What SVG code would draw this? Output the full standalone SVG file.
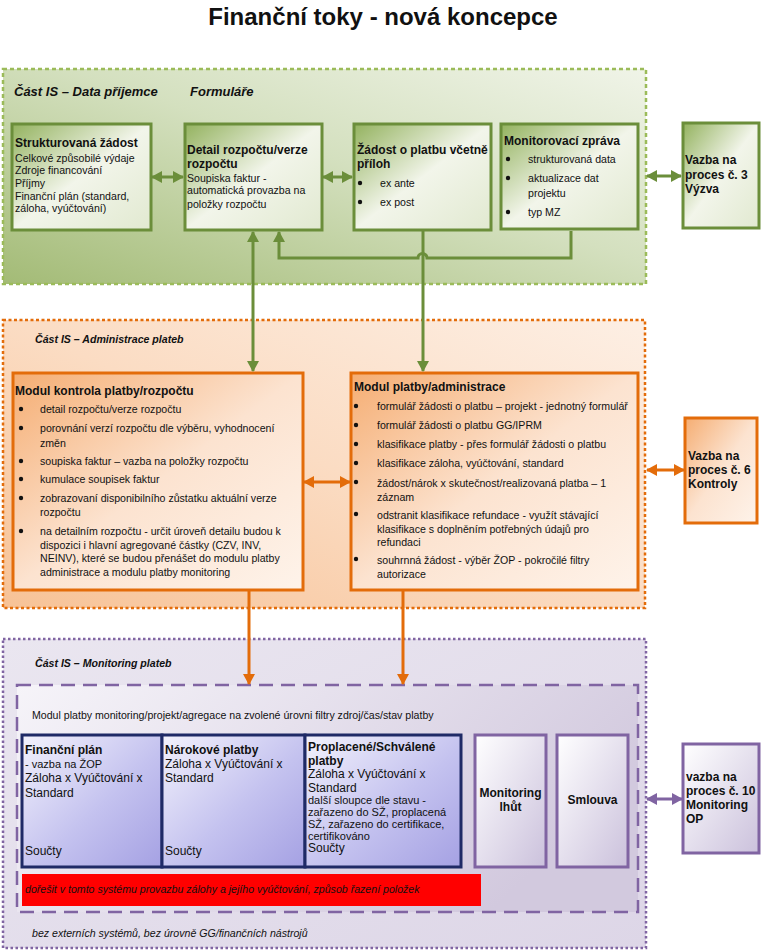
<svg xmlns="http://www.w3.org/2000/svg" width="761" height="952" viewBox="0 0 761 952">
<defs>
<linearGradient id="gSec" x1="0" y1="1" x2="1" y2="0">
<stop offset="0" stop-color="#a3bb76"/><stop offset="0.55" stop-color="#d4e0bf"/><stop offset="1" stop-color="#f0f4e8"/>
</linearGradient>
<linearGradient id="gBox" x1="0" y1="0" x2="1" y2="1">
<stop offset="0" stop-color="#93b25e"/><stop offset="0.5" stop-color="#f2f5ea"/><stop offset="1" stop-color="#e1e9d0"/>
</linearGradient>
<linearGradient id="oSec" x1="0" y1="1" x2="1" y2="0">
<stop offset="0" stop-color="#f7c296"/><stop offset="0.5" stop-color="#fbdcc3"/><stop offset="1" stop-color="#fdefe4"/>
</linearGradient>
<linearGradient id="oBox" x1="0" y1="0" x2="1" y2="1">
<stop offset="0" stop-color="#f5ad72"/><stop offset="0.5" stop-color="#fce3d0"/><stop offset="1" stop-color="#fef3ea"/>
</linearGradient>
<linearGradient id="pSec" x1="0" y1="0" x2="1" y2="1">
<stop offset="0" stop-color="#eae6f0"/><stop offset="1" stop-color="#ddd6e7"/>
</linearGradient>
<linearGradient id="pIn" x1="0" y1="0" x2="1" y2="0.4">
<stop offset="0" stop-color="#f6f4f9"/><stop offset="1" stop-color="#d2c9de"/>
</linearGradient>
<linearGradient id="bBox" x1="0" y1="0" x2="1" y2="1">
<stop offset="0" stop-color="#f3f2fc"/><stop offset="0.55" stop-color="#c4c2ef"/><stop offset="1" stop-color="#a5a1e3"/>
</linearGradient>
<linearGradient id="pBox" x1="0" y1="0" x2="1" y2="1">
<stop offset="0" stop-color="#ffffff"/><stop offset="1" stop-color="#cbc1dc"/>
</linearGradient>
<marker id="ag" markerUnits="userSpaceOnUse" markerWidth="12" markerHeight="12" refX="10" refY="6" orient="auto-start-reverse">
<path d="M0,0 L11,6 L0,12 z" fill="#6b8e3a"/>
</marker>
<marker id="ao" markerUnits="userSpaceOnUse" markerWidth="12" markerHeight="12" refX="10" refY="6" orient="auto-start-reverse">
<path d="M0,0 L11,6 L0,12 z" fill="#e36c0a"/>
</marker>
<marker id="ap" markerUnits="userSpaceOnUse" markerWidth="12" markerHeight="12" refX="10" refY="6" orient="auto-start-reverse">
<path d="M0,0 L11,6 L0,12 z" fill="#8064a2"/>
</marker>
</defs>
<style>
text{font-family:"Liberation Sans",Arial,sans-serif;fill:#111}
.title{font-size:24px;font-weight:bold}
.sec{font-weight:bold;font-style:italic}
.b12{font-size:12px;font-weight:bold}
.t12{font-size:12px}
.t11{font-size:11px}
.t10{font-size:10.6px}
.gbox{fill:url(#gBox);stroke:#6b8e3a;stroke-width:3}
.obox{fill:url(#oBox);stroke:#e36c0a;stroke-width:3}
.bbox{fill:url(#bBox);stroke:#1f2a66;stroke-width:3}
.pbox{fill:url(#pBox);stroke:#8064a2;stroke-width:3}
.cg{stroke:#6b8e3a;stroke-width:3;fill:none}
.co{stroke:#e36c0a;stroke-width:3;fill:none}
.cp{stroke:#8064a2;stroke-width:3;fill:none}
.dot{fill:#111}
</style>
<rect width="761" height="952" fill="#ffffff"/>
<text class="title" x="383" y="25" text-anchor="middle">Finanční toky - nová koncepce</text>

<g id="sec-data">
<rect x="3" y="69" width="643" height="215" fill="url(#gSec)" stroke="#9bbb59" stroke-width="2.5" stroke-dasharray="4 3"/>
<text class="sec" x="14" y="96" font-size="13">Část IS – Data příjemce</text>
<text class="sec" x="190" y="96" font-size="13">Formuláře</text>
</g>
<g id="sec-admin">
<rect x="3" y="320" width="642" height="288" fill="url(#oSec)" stroke="#e36c0a" stroke-width="2.5" stroke-dasharray="3 2.5"/>
<text class="sec" x="35" y="343" font-size="10.6">Část IS – Administrace plateb</text>
</g>
<g id="sec-mon">
<rect x="3" y="639" width="643" height="309" fill="url(#pSec)" stroke="#8064a2" stroke-width="2.5" stroke-dasharray="2.5 2.5"/>
<text class="sec" x="35" y="667" font-size="10.6">Část IS – Monitoring plateb</text>
<text x="32" y="937" font-size="10.6" font-style="italic">bez externích systémů, bez úrovně GG/finančních nástrojů</text>
</g>
<g id="mon-inner">
<rect x="17" y="685" width="621" height="227" fill="url(#pIn)" stroke="#8064a2" stroke-width="2.5" stroke-dasharray="14 8"/>
<text class="t10" x="32" y="719">Modul platby monitoring/projekt/agregace na zvolené úrovni filtry zdroj/čas/stav platby</text>
</g>

<g id="n-strukturovana">
<rect class="gbox" x="12" y="124" width="139" height="106"/>
<text class="b12" x="15" y="147">Strukturovaná žádost</text>
<text class="t10" x="15" y="162">Celkové způsobilé výdaje</text>
<text class="t10" x="15" y="174">Zdroje financování</text>
<text class="t10" x="15" y="187">Příjmy</text>
<text class="t10" x="15" y="200">Finanční plán (standard,</text>
<text class="t10" x="15" y="212">záloha, vyúčtování)</text>
</g>
<g id="n-detail">
<rect class="gbox" x="185" y="124" width="137" height="106"/>
<text class="b12" x="187" y="154">Detail rozpočtu/verze</text>
<text class="b12" x="187" y="168">rozpočtu</text>
<text class="t10" x="187" y="182">Soupiska faktur -</text>
<text class="t10" x="187" y="194">automatická provazba na</text>
<text class="t10" x="187" y="208">položky rozpočtu</text>
</g>
<g id="n-zadost">
<rect class="gbox" x="354" y="124" width="137" height="106"/>
<text class="b12" x="357" y="154">Žádost o platbu včetně</text>
<text class="b12" x="357" y="168">příloh</text>
<circle class="dot" cx="360" cy="183" r="2.2"/>
<text class="t10" x="380" y="187">ex ante</text>
<circle class="dot" cx="360" cy="202" r="2.2"/>
<text class="t10" x="380" y="206">ex post</text>
</g>
<g id="n-monitorovaci">
<rect class="gbox" x="501" y="124" width="137" height="105"/>
<text class="b12" x="504" y="145">Monitorovací zpráva</text>
<circle class="dot" cx="508" cy="159" r="2.2"/>
<text class="t10" x="528" y="163">strukturovaná data</text>
<circle class="dot" cx="508" cy="178" r="2.2"/>
<text class="t10" x="528" y="182">aktualizace dat</text>
<text class="t10" x="528" y="197">projektu</text>
<circle class="dot" cx="508" cy="212" r="2.2"/>
<text class="t10" x="528" y="216">typ MZ</text>
</g>
<g id="n-vazba3">
<rect class="gbox" x="683" y="123" width="76" height="105"/>
<text class="b12" x="685" y="164">Vazba na</text>
<text class="b12" x="685" y="179">proces č. 3</text>
<text class="b12" x="685" y="193">Výzva</text>
</g>

<g id="n-kontrola">
<rect class="obox" x="13" y="373" width="290" height="217"/>
<text class="b12" x="15" y="395">Modul kontrola platby/rozpočtu</text>
<circle class="dot" cx="21" cy="409" r="2.2"/>
<text class="t10" x="40" y="413">detail rozpočtu/verze rozpočtu</text>
<circle class="dot" cx="21" cy="428" r="2.2"/>
<text class="t10" x="40" y="432">porovnání verzí rozpočtu dle výběru, vyhodnocení</text>
<text class="t10" x="40" y="447">změn</text>
<circle class="dot" cx="21" cy="461" r="2.2"/>
<text class="t10" x="40" y="465">soupiska faktur – vazba na položky rozpočtu</text>
<circle class="dot" cx="21" cy="479" r="2.2"/>
<text class="t10" x="40" y="483">kumulace soupisek faktur</text>
<circle class="dot" cx="21" cy="498" r="2.2"/>
<text class="t10" x="40" y="502">zobrazovaní disponibilního zůstatku aktuální verze</text>
<text class="t10" x="40" y="516">rozpočtu</text>
<circle class="dot" cx="21" cy="531" r="2.2"/>
<text class="t10" x="40" y="535">na detailním rozpočtu - určit úroveň detailu budou k</text>
<text class="t10" x="40" y="549">dispozici i hlavní agregované částky (CZV, INV,</text>
<text class="t10" x="40" y="562">NEINV), které se budou přenášet do modulu platby</text>
<text class="t10" x="40" y="576">administrace a modulu platby monitoring</text>
</g>
<g id="n-platby">
<rect class="obox" x="351" y="373" width="287" height="217"/>
<text class="b12" x="354" y="391">Modul platby/administrace</text>
<circle class="dot" cx="356" cy="406" r="2.2"/>
<text class="t10" x="377" y="410">formulář žádosti o platbu – projekt - jednotný formulář</text>
<circle class="dot" cx="356" cy="425" r="2.2"/>
<text class="t10" x="377" y="429">formulář žádosti o platbu GG/IPRM</text>
<circle class="dot" cx="356" cy="444" r="2.2"/>
<text class="t10" x="377" y="448">klasifikace platby - přes formulář žádosti o platbu</text>
<circle class="dot" cx="356" cy="463" r="2.2"/>
<text class="t10" x="377" y="467">klasifikace záloha, vyúčtování, standard</text>
<circle class="dot" cx="356" cy="482" r="2.2"/>
<text class="t10" x="377" y="487">žádost/nárok x skutečnost/realizovaná platba – 1</text>
<text class="t10" x="377" y="501">záznam</text>
<circle class="dot" cx="356" cy="514" r="2.2"/>
<text class="t10" x="377" y="519">odstranit klasifikace refundace - využít stávající</text>
<text class="t10" x="377" y="533">klasifikace s doplněním potřebných údajů pro</text>
<text class="t10" x="377" y="546">refundaci</text>
<circle class="dot" cx="356" cy="559" r="2.2"/>
<text class="t10" x="377" y="564">souhrnná žádost - výběr ŽOP - pokročilé filtry</text>
<text class="t10" x="377" y="578">autorizace</text>
</g>
<g id="n-vazba6">
<rect class="obox" x="685" y="418" width="72" height="105"/>
<text class="b12" x="688" y="460">Vazba na</text>
<text class="b12" x="688" y="474">proces č. 6</text>
<text class="b12" x="688" y="488">Kontroly</text>
</g>

<g id="n-financni-plan">
<rect class="bbox" x="22" y="735" width="140" height="132"/>
<text class="b12" x="25" y="754">Finanční plán</text>
<text class="t11" x="25" y="768">- vazba na ŽOP</text>
<text class="t12" x="25" y="782">Záloha x Vyúčtování x</text>
<text class="t12" x="25" y="797">Standard</text>
<text class="t12" x="25" y="855">Součty</text>
</g>
<g id="n-narokove">
<rect class="bbox" x="162" y="735" width="143" height="132"/>
<text class="b12" x="165" y="754">Nárokové platby</text>
<text class="t12" x="165" y="768">Záloha x Vyúčtování x</text>
<text class="t12" x="165" y="782">Standard</text>
<text class="t12" x="165" y="855">Součty</text>
</g>
<g id="n-proplacene">
<rect class="bbox" x="305" y="735" width="156" height="132"/>
<text class="b12" x="308" y="751">Proplacené/Schválené</text>
<text class="b12" x="308" y="765">platby</text>
<text class="t12" x="308" y="778">Záloha x Vyúčtování x</text>
<text class="t12" x="308" y="792">Standard</text>
<text class="t11" x="308" y="804">další sloupce dle stavu -</text>
<text class="t11" x="308" y="816">zařazeno do SŽ, proplacená</text>
<text class="t11" x="308" y="828">SŽ, zařazeno do certifikace,</text>
<text class="t11" x="308" y="840">certifikováno</text>
<text class="t12" x="308" y="852">Součty</text>
</g>
<g id="n-lhuty">
<rect class="pbox" x="475" y="735" width="71" height="132"/>
<text class="b12" x="510.5" y="797" text-anchor="middle">Monitoring</text>
<text class="b12" x="510.5" y="811" text-anchor="middle">lhůt</text>
</g>
<g id="n-smlouva">
<rect class="pbox" x="557" y="735" width="71" height="132"/>
<text class="b12" x="592.5" y="804" text-anchor="middle">Smlouva</text>
</g>
<g id="n-doresit">
<rect x="22" y="874" width="459" height="32" fill="#ff0000"/>
<text class="t10" x="25" y="893" font-style="italic" fill="#400000">dořešit v tomto systému provazbu zálohy a jejího vyúčtování, způsob řazení položek</text>
</g>
<g id="n-vazba10">
<rect class="pbox" x="683" y="744" width="76" height="109"/>
<text class="b12" x="686" y="781">vazba na</text>
<text class="b12" x="686" y="795">proces č. 10</text>
<text class="b12" x="686" y="809">Monitoring</text>
<text class="b12" x="686" y="823">OP</text>
</g>

<g id="connectors">
<line class="cg" x1="152" y1="177" x2="183" y2="177" marker-start="url(#ag)" marker-end="url(#ag)"/>
<line class="cg" x1="323" y1="177" x2="352" y2="177" marker-start="url(#ag)" marker-end="url(#ag)"/>
<line class="cg" x1="647" y1="176" x2="681" y2="176" marker-start="url(#ag)" marker-end="url(#ag)"/>
<line class="cg" x1="253" y1="232" x2="253" y2="371" marker-start="url(#ag)" marker-end="url(#ag)"/>
<path class="cg" d="M571,231 V258 H427 A4.5,4.5 0 0 0 418,258 H279 V232" marker-end="url(#ag)"/>
<line class="cg" x1="423" y1="231" x2="423" y2="371" marker-end="url(#ag)"/>
<line class="co" x1="304" y1="482" x2="350" y2="482" marker-start="url(#ao)" marker-end="url(#ao)"/>
<line class="co" x1="647" y1="470" x2="684" y2="470" marker-start="url(#ao)" marker-end="url(#ao)"/>
<line class="co" x1="249" y1="591" x2="249" y2="684" marker-end="url(#ao)"/>
<line class="co" x1="403" y1="591" x2="403" y2="684" marker-end="url(#ao)"/>
<line class="cp" x1="647" y1="799" x2="682" y2="799" marker-start="url(#ap)" marker-end="url(#ap)"/>
</g>
</svg>
